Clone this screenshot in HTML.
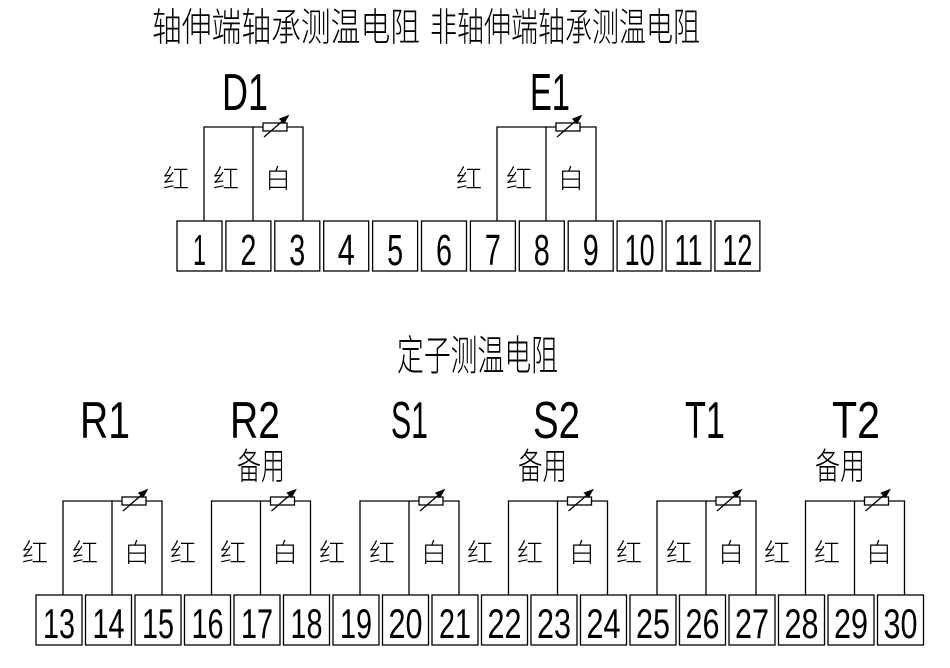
<!DOCTYPE html>
<html><head><meta charset="utf-8"><style>
html,body{margin:0;padding:0;background:#fff;width:950px;height:668px;overflow:hidden}
text{font-family:"Liberation Sans","Noto Sans CJK SC",sans-serif;fill:#000}
.c{font-family:"Noto Sans CJK SC","WenQuanYi Zen Hei",sans-serif;font-weight:300}
</style></head><body>
<svg width="950" height="668" viewBox="0 0 950 668" xmlns="http://www.w3.org/2000/svg">
<defs>
<g id="ckt" fill="none" stroke="#000" stroke-width="1.3">
<path d="M0 94V0H99V94M49 0V94"/>
<rect x="59" y="-4" width="24" height="8" fill="#fff"/>
<path d="M60 10L82 -9"/>
<path d="M84 -11L76 -8L80 -4Z" fill="#000"/>
</g>
</defs>
<g class="c">
<text class="c" font-size="30" transform="translate(152,41) scale(1,1.3)" textLength="268" lengthAdjust="spacingAndGlyphs">轴伸端轴承测温电阻</text>
<text class="c" font-size="30" transform="translate(430,41) scale(1,1.3)" textLength="270" lengthAdjust="spacingAndGlyphs">非轴伸端轴承测温电阻</text>
<text class="c" font-size="32" transform="translate(397,370) scale(1,1.3)" textLength="161" lengthAdjust="spacingAndGlyphs">定子测温电阻</text>
<text class="c" font-size="28" transform="translate(237,479) scale(1,1.3)" textLength="48" lengthAdjust="spacingAndGlyphs">备用</text>
<text class="c" font-size="28" transform="translate(518,479) scale(1,1.3)" textLength="49" lengthAdjust="spacingAndGlyphs">备用</text>
<text class="c" font-size="28" transform="translate(815,479) scale(1,1.3)" textLength="50" lengthAdjust="spacingAndGlyphs">备用</text>
</g>
<g font-size="52">
<text x="222" y="110" textLength="46" lengthAdjust="spacingAndGlyphs">D1</text>
<text x="530" y="110" textLength="40" lengthAdjust="spacingAndGlyphs">E1</text>
<text x="80" y="438" textLength="50" lengthAdjust="spacingAndGlyphs">R1</text>
<text x="230" y="438" textLength="50" lengthAdjust="spacingAndGlyphs">R2</text>
<text x="391" y="438" textLength="37" lengthAdjust="spacingAndGlyphs">S1</text>
<text x="533" y="438" textLength="47" lengthAdjust="spacingAndGlyphs">S2</text>
<text x="685" y="438" textLength="40" lengthAdjust="spacingAndGlyphs">T1</text>
<text x="832" y="438" textLength="48" lengthAdjust="spacingAndGlyphs">T2</text>
</g>
<use href="#ckt" x="204" y="127"/>
<use href="#ckt" x="497" y="127"/>
<use href="#ckt" x="63" y="501"/>
<use href="#ckt" x="211.5" y="501"/>
<use href="#ckt" x="360" y="501"/>
<use href="#ckt" x="508.5" y="501"/>
<use href="#ckt" x="657" y="501"/>
<use href="#ckt" x="805.5" y="501"/>
<g font-size="26" class="c">
<text class="c" x="163" y="188">红</text><text class="c" x="213" y="188">红</text><text class="c" x="265" y="188">白</text>
<text class="c" x="456" y="188">红</text><text class="c" x="506" y="188">红</text><text class="c" x="558" y="188">白</text>
<text class="c" x="22" y="562">红</text><text class="c" x="72" y="562">红</text><text class="c" x="124" y="562">白</text>
<text class="c" x="170" y="562">红</text><text class="c" x="220" y="562">红</text><text class="c" x="272" y="562">白</text>
<text class="c" x="319" y="562">红</text><text class="c" x="369" y="562">红</text><text class="c" x="421" y="562">白</text>
<text class="c" x="467" y="562">红</text><text class="c" x="517" y="562">红</text><text class="c" x="569" y="562">白</text>
<text class="c" x="616" y="562">红</text><text class="c" x="666" y="562">红</text><text class="c" x="718" y="562">白</text>
<text class="c" x="764" y="562">红</text><text class="c" x="814" y="562">红</text><text class="c" x="866" y="562">白</text>
</g>
<g fill="none" stroke="#000" stroke-width="1.3">
<rect x="177" y="221" width="45" height="50"/><rect x="225.9" y="221" width="45" height="50"/><rect x="274.8" y="221" width="45" height="50"/><rect x="323.7" y="221" width="45" height="50"/><rect x="372.6" y="221" width="45" height="50"/><rect x="421.5" y="221" width="45" height="50"/><rect x="470.4" y="221" width="45" height="50"/><rect x="519.3" y="221" width="45" height="50"/><rect x="568.2" y="221" width="45" height="50"/><rect x="617.1" y="221" width="45" height="50"/><rect x="666" y="221" width="45" height="50"/><rect x="714.9" y="221" width="45" height="50"/>
<rect x="36" y="595" width="46" height="50"/><rect x="85.5" y="595" width="46" height="50"/><rect x="135" y="595" width="46" height="50"/><rect x="184.5" y="595" width="46" height="50"/><rect x="234" y="595" width="46" height="50"/><rect x="283.5" y="595" width="46" height="50"/><rect x="333" y="595" width="46" height="50"/><rect x="382.5" y="595" width="46" height="50"/><rect x="432" y="595" width="46" height="50"/><rect x="481.5" y="595" width="46" height="50"/><rect x="531" y="595" width="46" height="50"/><rect x="580.5" y="595" width="46" height="50"/><rect x="630" y="595" width="46" height="50"/><rect x="679.5" y="595" width="46" height="50"/><rect x="729" y="595" width="46" height="50"/><rect x="778.5" y="595" width="46" height="50"/><rect x="828" y="595" width="46" height="50"/><rect x="877.5" y="595" width="46" height="50"/>
</g>
<g font-size="44" text-anchor="middle">
<text x="199.5" y="265" textLength="13" lengthAdjust="spacingAndGlyphs">1</text>
<text x="248.4" y="265" textLength="16" lengthAdjust="spacingAndGlyphs">2</text>
<text x="297.3" y="265" textLength="16" lengthAdjust="spacingAndGlyphs">3</text>
<text x="346.2" y="265" textLength="17" lengthAdjust="spacingAndGlyphs">4</text>
<text x="395.1" y="265" textLength="16" lengthAdjust="spacingAndGlyphs">5</text>
<text x="444" y="265" textLength="16" lengthAdjust="spacingAndGlyphs">6</text>
<text x="492.9" y="265" textLength="16" lengthAdjust="spacingAndGlyphs">7</text>
<text x="541.8" y="265" textLength="16" lengthAdjust="spacingAndGlyphs">8</text>
<text x="590.7" y="265" textLength="16" lengthAdjust="spacingAndGlyphs">9</text>
<text x="639.6" y="265" textLength="30" lengthAdjust="spacingAndGlyphs">10</text>
<text x="688.5" y="265" textLength="28" lengthAdjust="spacingAndGlyphs">11</text>
<text x="737.4" y="265" textLength="30" lengthAdjust="spacingAndGlyphs">12</text>
</g>
<g font-size="42" text-anchor="middle">
<text x="59" y="638" textLength="32" lengthAdjust="spacingAndGlyphs">13</text>
<text x="108.5" y="638" textLength="32" lengthAdjust="spacingAndGlyphs">14</text>
<text x="158" y="638" textLength="32" lengthAdjust="spacingAndGlyphs">15</text>
<text x="207.5" y="638" textLength="32" lengthAdjust="spacingAndGlyphs">16</text>
<text x="257" y="638" textLength="32" lengthAdjust="spacingAndGlyphs">17</text>
<text x="306.5" y="638" textLength="32" lengthAdjust="spacingAndGlyphs">18</text>
<text x="356" y="638" textLength="32" lengthAdjust="spacingAndGlyphs">19</text>
<text x="405.5" y="638" textLength="34" lengthAdjust="spacingAndGlyphs">20</text>
<text x="455" y="638" textLength="32" lengthAdjust="spacingAndGlyphs">21</text>
<text x="504.5" y="638" textLength="34" lengthAdjust="spacingAndGlyphs">22</text>
<text x="554" y="638" textLength="34" lengthAdjust="spacingAndGlyphs">23</text>
<text x="603.5" y="638" textLength="34" lengthAdjust="spacingAndGlyphs">24</text>
<text x="653" y="638" textLength="34" lengthAdjust="spacingAndGlyphs">25</text>
<text x="702.5" y="638" textLength="34" lengthAdjust="spacingAndGlyphs">26</text>
<text x="752" y="638" textLength="34" lengthAdjust="spacingAndGlyphs">27</text>
<text x="801.5" y="638" textLength="34" lengthAdjust="spacingAndGlyphs">28</text>
<text x="851" y="638" textLength="34" lengthAdjust="spacingAndGlyphs">29</text>
<text x="900.5" y="638" textLength="34" lengthAdjust="spacingAndGlyphs">30</text>
</g>
</svg>
</body></html>
